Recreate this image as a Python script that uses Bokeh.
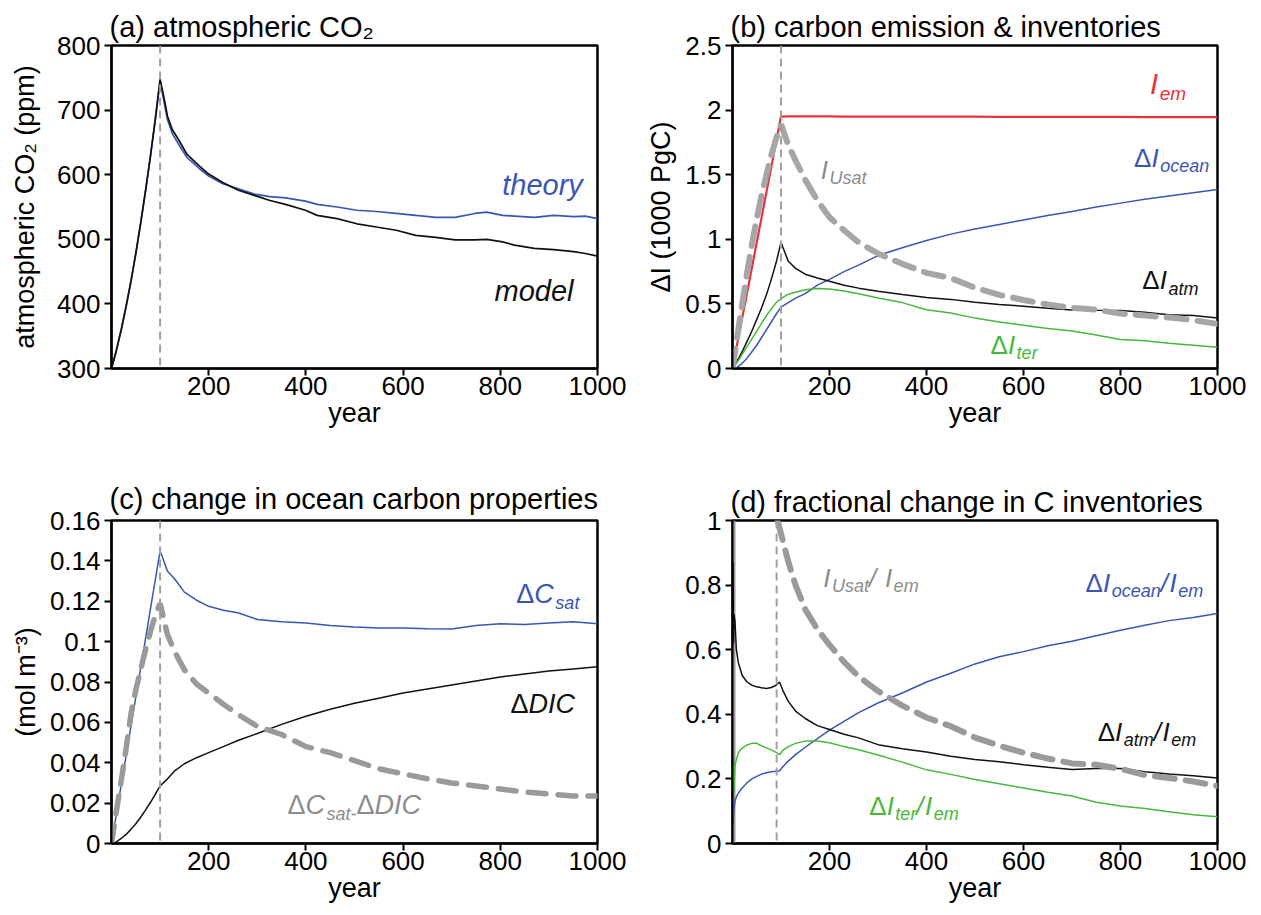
from bokeh.plotting import figure
from bokeh.layouts import gridplot
from bokeh.models import Range1d, FixedTicker, Span, Label
from bokeh.embed import file_html
from bokeh.resources import INLINE

FONT = "Liberation Sans"
BLUE = "#3a56b4"
RED = "#e8313b"
GREEN = "#48b83b"
BLACK = "#111111"
GRAY = "#a6a6a6"
GRAY_TXT = "#8d8d8d"

# ---------------- data ----------------
x_ticks = [200, 400, 600, 800, 1000]
x_labels = ["200", "400", "600", "800", "1000"]

# (a) atmospheric CO2 (ppm)
years_a = [0, 10, 20, 30, 40, 50, 60, 70, 80, 90, 100, 110, 115, 125, 139, 155, 180, 200, 229, 261,
           294, 326, 358, 399, 423, 464, 505, 545, 586, 626, 667, 707, 748, 772, 805, 829, 870, 910,
           951, 975, 1000]
co2_model = [300, 328, 360, 396, 435, 478, 525, 575, 628, 685, 748, 712, 691, 670, 653, 632, 614, 601,
             588, 576, 568, 560, 554, 545, 537, 532, 524, 519, 514, 506, 503, 499, 499, 500, 496, 491,
             486, 484, 481, 478, 474]
co2_theory = [300, 328, 360, 396, 435, 478, 525, 575, 628, 685, 745, 705, 686, 664, 646, 627, 610, 598,
              586, 578, 570, 566, 564, 559, 554, 550, 545, 543, 540, 537, 534, 534, 540, 542, 537, 536,
              534, 537, 535, 536, 532]
yticks_a = [300, 400, 500, 600, 700, 800]
ylabels_a = ["300", "400", "500", "600", "700", "800"]

# (b) carbon inventories (1000 PgC)
years_b = [0, 10, 20, 30, 40, 50, 60, 70, 80, 90, 100, 115, 130, 150, 175, 200, 230, 260, 300, 350,
           400, 450, 500, 550, 600, 650, 700, 750, 800, 850, 900, 950, 1000]
inv_em = [0, 0.195, 0.39, 0.585, 0.78, 0.975, 1.17, 1.365, 1.56, 1.755, 1.95, 1.952, 1.952, 1.951,
          1.951, 1.951, 1.950, 1.950, 1.950, 1.950, 1.949, 1.949, 1.949, 1.948, 1.948, 1.948, 1.947,
          1.947, 1.947, 1.946, 1.946, 1.946, 1.945]
inv_atm = [0, 0.06, 0.13, 0.21, 0.29, 0.38, 0.47, 0.57, 0.69, 0.82, 0.976, 0.83, 0.775, 0.73, 0.70,
           0.675, 0.645, 0.622, 0.598, 0.572, 0.55, 0.535, 0.512, 0.496, 0.482, 0.466, 0.452, 0.45,
           0.449, 0.436, 0.416, 0.41, 0.39]
inv_ocean = [0, 0.01, 0.04, 0.08, 0.13, 0.18, 0.24, 0.30, 0.36, 0.42, 0.475, 0.51, 0.545, 0.58, 0.645,
             0.69, 0.75, 0.80, 0.874, 0.935, 0.99, 1.04, 1.08, 1.115, 1.15, 1.185, 1.215, 1.25, 1.28,
             1.31, 1.335, 1.36, 1.385]
inv_ter = [0, 0.05, 0.11, 0.17, 0.23, 0.29, 0.35, 0.41, 0.46, 0.51, 0.54, 0.575, 0.59, 0.61, 0.62,
           0.615, 0.60, 0.578, 0.545, 0.51, 0.455, 0.43, 0.39, 0.36, 0.335, 0.31, 0.29, 0.26, 0.225,
           0.215, 0.195, 0.18, 0.165]
inv_usat = [0, 0.25, 0.5, 0.74, 0.96, 1.16, 1.34, 1.5, 1.65, 1.78, 1.89, 1.73, 1.61, 1.46, 1.30, 1.17,
            1.07, 0.976, 0.89, 0.81, 0.74, 0.70, 0.625, 0.57, 0.53, 0.495, 0.47, 0.455, 0.425, 0.41,
            0.395, 0.375, 0.345]
yticks_b = [0, 0.5, 1, 1.5, 2, 2.5]
ylabels_b = ["0", "0.5", "1", "1.5", "2", "2.5"]

# (c) ocean carbon properties (mol m-3)
years_c = years_b
c_sat = [0, 0.0145, 0.029, 0.0435, 0.058, 0.0725, 0.087, 0.1015, 0.116, 0.1305, 0.145, 0.135, 0.131,
         0.1245, 0.1205, 0.1175, 0.1155, 0.1143, 0.111, 0.1098, 0.1092, 0.108, 0.1072, 0.1068,
         0.1068, 0.1064, 0.1063, 0.108, 0.1088, 0.1085, 0.1092, 0.1098, 0.1089]
c_dic = [0, 0.0008, 0.0025, 0.0045, 0.007, 0.0098, 0.013, 0.0165, 0.0203, 0.0243, 0.0285, 0.032,
         0.036, 0.0395, 0.0425, 0.045, 0.048, 0.051, 0.0545, 0.059, 0.063, 0.0665, 0.0695, 0.072,
         0.0745, 0.0765, 0.0785, 0.0805, 0.0825, 0.084, 0.0855, 0.0865, 0.0875]
c_diff = [0, 0.016, 0.031, 0.047, 0.064, 0.076, 0.086, 0.096, 0.105, 0.113, 0.119, 0.1036, 0.095,
          0.086, 0.079, 0.0745, 0.069, 0.064, 0.058, 0.054, 0.048, 0.045, 0.041, 0.037, 0.0345, 0.032,
          0.030, 0.0285, 0.027, 0.0255, 0.0245, 0.0235, 0.0235]
yticks_c = [0, 0.02, 0.04, 0.06, 0.08, 0.1, 0.12, 0.14, 0.16]
ylabels_c = ["0", "0.02", "0.04", "0.06", "0.08", "0.1", "0.12", "0.14", "0.16"]

# (d) fractional change in C inventories
years_d = [1, 2, 3, 5, 8, 12, 16, 20, 30, 40, 50, 60, 70, 80, 90, 97, 105, 115, 130, 150, 175, 200,
           230, 260, 300, 350, 400, 450, 500, 550, 600, 650, 700, 750, 800, 850, 900, 950, 1000]
frac_ocean = [0.065, 0.09, 0.11, 0.13, 0.145, 0.155, 0.165, 0.172, 0.188, 0.2, 0.208, 0.215, 0.219,
              0.222, 0.224, 0.225, 0.24, 0.255, 0.275, 0.298, 0.325, 0.351, 0.378, 0.405, 0.435, 0.466,
              0.5, 0.527, 0.556, 0.578, 0.594, 0.612, 0.626, 0.643, 0.66, 0.676, 0.69, 0.70, 0.712]
frac_atm = [0.87, 0.62, 0.71, 0.69, 0.6, 0.56, 0.54, 0.52, 0.5, 0.49, 0.485, 0.482, 0.48, 0.483, 0.49,
            0.5, 0.47, 0.44, 0.41, 0.387, 0.365, 0.353, 0.338, 0.327, 0.306, 0.293, 0.283, 0.27, 0.26,
            0.253, 0.244, 0.236, 0.229, 0.232, 0.232, 0.222, 0.215, 0.21, 0.203]
frac_ter = [0.065, 0.27, 0.16, 0.24, 0.26, 0.28, 0.29, 0.295, 0.305, 0.31, 0.31, 0.302, 0.296, 0.29,
            0.282, 0.275, 0.29, 0.3, 0.31, 0.317, 0.317, 0.312, 0.3, 0.29, 0.274, 0.252, 0.228, 0.214,
            0.198, 0.185, 0.172, 0.159, 0.147, 0.128, 0.116, 0.108, 0.098, 0.089, 0.083]
years_u = [1, 1, 93, 105, 115, 130, 150, 175, 200, 230, 260, 300, 350, 400, 450, 500, 550, 600, 650,
           700, 750, 800, 850, 900, 950, 1000]
frac_usat = [0, 1, 1, 0.93, 0.873, 0.80, 0.725, 0.663, 0.615, 0.562, 0.517, 0.472, 0.427, 0.39, 0.363,
             0.328, 0.303, 0.281, 0.263, 0.248, 0.244, 0.231, 0.212, 0.203, 0.192, 0.178]
yticks_d = [0, 0.2, 0.4, 0.6, 0.8, 1]
ylabels_d = ["0", "0.2", "0.4", "0.6", "0.8", "1"]

emission_end = [100, 100, 100, 91]  # dashed marker year per panel (a, b, c, d)

# ---------------- helpers ----------------
CW = {" ": 278, "(": 333, ")": 333, "Δ": 668, "I": 278, "o": 556, "c": 500, "e": 556, "a": 556,
      "n": 556, "U": 722, "s": 500, "t": 278, "/": 278, "m": 833, "r": 333, "D": 722, "C": 722,
      "-": 333, "h": 556, "y": 500, "d": 556, "l": 222}

LIFT = 8  # px


def tw(s, size):
    return sum(CW.get(ch, 556) for ch in s) * size / 1000.0


def rich_label(p, x, y, parts, color, base=26, sub=18):
    off = 0.0
    for txt, kind in parts:
        is_sub = kind.startswith("s")
        size = sub if is_sub else base
        style = "italic" if "i" in kind else "normal"
        p.add_layout(Label(x=x, y=y, x_offset=off,
                           y_offset=LIFT + (-0.33 * base if is_sub else 0),
                           text=txt, text_color=color, text_font=FONT,
                           text_font_size=f"{size}px", text_font_style=style,
                           text_align="left", text_baseline="alphabetic"))
        off += tw(txt, size) + (1.5 if kind == "i" else 0)


def panel(w, h, yrange, yticks, ylabels, title, ylabel, left, right, top, bottom, ylab_standoff,
          title_standoff):
    p = figure(width=w, height=h, x_range=Range1d(0, 1000), y_range=Range1d(*yrange),
               output_backend="svg", toolbar_location=None,
               min_border_left=left, min_border_right=right,
               min_border_top=top, min_border_bottom=bottom)
    p.title.text = title
    p.title.text_font = FONT
    p.title.text_font_size = "29px"
    p.title.text_font_style = "normal"
    p.title.text_color = "black"
    p.title.align = "left"
    p.title.offset = -2
    p.title.standoff = title_standoff
    p.outline_line_color = "black"
    p.outline_line_width = 2.5
    p.outline_line_alpha = 1.0
    p.xgrid.visible = False
    p.ygrid.visible = False
    p.background_fill_color = "white"
    p.border_fill_color = "white"

    p.xaxis.ticker = FixedTicker(ticks=x_ticks)
    p.xaxis.major_label_overrides = dict(zip(x_ticks, x_labels))
    p.xaxis.axis_label = "year"
    p.yaxis.ticker = FixedTicker(ticks=yticks)
    p.yaxis.major_label_overrides = dict(zip(yticks, ylabels))
    p.yaxis.axis_label = ylabel if ylabel else None
    for ax in p.axis:
        ax.axis_line_color = "black"
        ax.axis_line_width = 2
        ax.major_tick_line_color = "black"
        ax.major_tick_line_width = 2
        ax.major_tick_out = 7
        ax.major_tick_in = 0
        ax.minor_tick_out = 0
        ax.minor_tick_in = 0
        ax.major_label_text_font = FONT
        ax.major_label_text_font_size = "26px"
        ax.major_label_text_color = "black"
        ax.axis_label_text_font = FONT
        ax.axis_label_text_font_size = "27px"
        ax.axis_label_text_font_style = "normal"
        ax.axis_label_text_color = "black"
    p.xaxis.major_label_standoff = 1
    p.xaxis.axis_label_standoff = 0
    p.yaxis.major_label_standoff = 4
    p.yaxis.axis_label_standoff = ylab_standoff
    return p


def vdash(p, year):
    p.add_layout(Span(location=year, dimension="height", line_color="#a0a0a0",
                      line_width=2, line_dash="8 5"))


# ---------------- (a) ----------------
pa = panel(630, 440, (300, 800), yticks_a, ylabels_a, "(a) atmospheric CO₂",
           "atmospheric CO₂ (ppm)", 111, 33, 45, 72, 14, 5)
vdash(pa, emission_end[0])
pa.line(years_a, co2_theory, line_color=BLUE, line_width=1.7)
pa.line(years_a, co2_model, line_color=BLACK, line_width=1.7)
rich_label(pa, 804, 571, [("theory", "i")], BLUE, base=29)
rich_label(pa, 788, 407, [("model", "i")], BLACK, base=29)

# ---------------- (b) ----------------
pb = panel(631, 440, (0, 2.5), yticks_b, ylabels_b, "(b) carbon emission & inventories",
           "ΔI (1000 PgC)", 98, 44, 43, 72, 6, 5)
vdash(pb, emission_end[1])
pb.line(years_b, inv_em, line_color=RED, line_width=2.2)
pb.line(years_b, inv_ocean, line_color=BLUE, line_width=1.5)
pb.line(years_b, inv_atm, line_color=BLACK, line_width=1.5)
pb.line(years_b, inv_ter, line_color=GREEN, line_width=1.5)
pb.line(years_b, inv_usat, line_color=GRAY, line_width=6, line_dash="20 11", line_cap="round")
rich_label(pb, 861, 2.138, [("I", "i"), ("em", "si")], RED, base=29, sub=19)
rich_label(pb, 828, 1.569, [("Δ", "n"), ("I", "i"), ("ocean", "si")], BLUE)
rich_label(pb, 182, 1.477, [("I", "i"), ("Usat", "si")], GRAY_TXT)
rich_label(pb, 845, 0.623, [("Δ", "n"), ("I", "i"), ("atm", "si")], BLACK)
rich_label(pb, 532, 0.123, [("Δ", "n"), ("I", "i"), ("ter", "si")], GREEN)

# ---------------- (c) ----------------
pc = panel(630, 475, (0, 0.16), yticks_c, ylabels_c, "(c) change in ocean carbon properties",
           "(mol m⁻³)", 111, 33, 80, 72, 6, 12)
vdash(pc, emission_end[2])
pc.line(years_c, c_sat, line_color=BLUE, line_width=1.5)
pc.line(years_c, c_dic, line_color=BLACK, line_width=1.5)
pc.line(years_c, c_diff, line_color="#9a9a9a", line_width=5.5, line_dash="18 12", line_cap="round")
rich_label(pc, 833, 0.1194, [("Δ", "n"), ("C", "i"), ("sat", "si")], BLUE, base=27)
rich_label(pc, 821, 0.0649, [("Δ", "n"), ("DIC", "i")], BLACK, base=27)
rich_label(pc, 362, 0.0149, [("Δ", "n"), ("C", "i"), ("sat-", "si"), ("Δ", "n"), ("DIC", "i")],
           GRAY_TXT, base=27)

# ---------------- (d) ----------------
pd_ = panel(631, 475, (0, 1), yticks_d, ylabels_d, "(d) fractional change in C inventories",
            None, 102, 43, 76, 72, 8, 6)
vdash(pd_, emission_end[3])
pd_.line(years_u[:2], frac_usat[:2], line_color="#9a9a9a", line_width=5)
pd_.line(years_d, frac_ocean, line_color=BLUE, line_width=1.5)
pd_.line(years_d, frac_atm, line_color=BLACK, line_width=1.5)
pd_.line(years_d, frac_ter, line_color=GREEN, line_width=1.5)
pd_.line(years_u[2:], frac_usat[2:], line_color="#9a9a9a", line_width=6, line_dash="20 11",
         line_cap="round")
rich_label(pd_, 187, 0.798, [("I", "i"), ("Usat", "si"), (" /", "i"), ("I", "i"), ("em", "si")],
           GRAY_TXT)
rich_label(pd_, 728, 0.783, [("Δ", "n"), ("I", "i"), ("ocean", "si"), ("/", "i"), ("I", "i"),
                             ("em", "si")], BLUE)
rich_label(pd_, 753, 0.321, [("Δ", "n"), ("I", "i"), ("atm", "si"), ("/", "i"), ("I", "i"),
                             ("em", "si")], BLACK)
rich_label(pd_, 282, 0.092, [("Δ", "n"), ("I", "i"), ("ter", "si"), ("/", "i"), ("I", "i"),
                             ("em", "si")], GREEN)

grid = gridplot([[pa, pb], [pc, pd_]], toolbar_location=None)

with open("out.html", "w") as f:
    f.write(file_html(grid, INLINE))
